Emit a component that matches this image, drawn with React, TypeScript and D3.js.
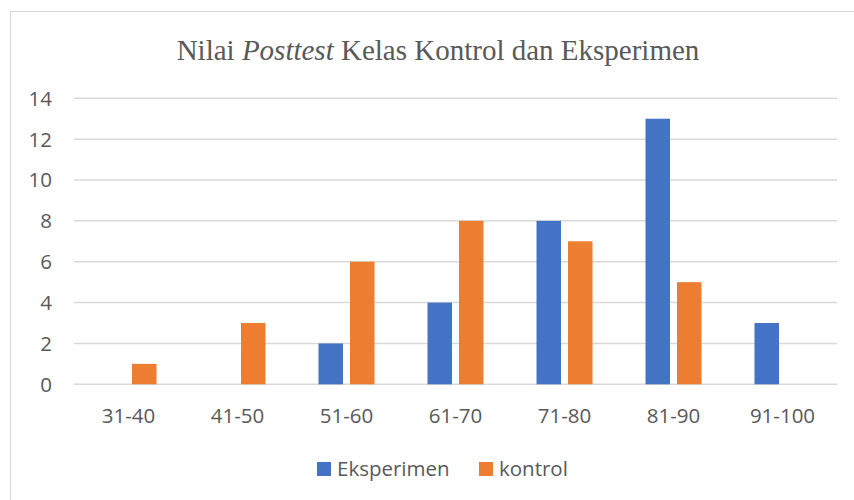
import React, { useEffect, useRef } from "react";
import * as d3 from "d3";

// kelas interval nilai
const kategori = ["31-40", "41-50", "51-60", "61-70", "71-80", "81-90", "91-100"];
const eksperimen = [0, 0, 2, 4, 8, 13, 3];
const kontrol = [1, 3, 6, 8, 7, 5, 0];
const yTicks = [0, 2, 4, 6, 8, 10, 12, 14];
const seri = [
  { nama: "Eksperimen", nilai: eksperimen, warna: "#4472C4" },
  { nama: "kontrol", nilai: kontrol, warna: "#ED7D31" },
];

const W = 854;
const H = 500;

export default function App() {
  const ref = useRef<SVGSVGElement>(null);

  useEffect(() => {
    const svg = d3.select(ref.current);
    svg.selectAll("*").remove();

    const x0 = 74, x1 = 837;
    const yTop = 98.3, yBot = 384.3;
    const fontAxis = "'Open Sans', sans-serif";
    const textCol = "#595959";

    // bingkai
    svg.append("rect")
      .attr("x", 10.5).attr("y", 11.5)
      .attr("width", 900).attr("height", 600)
      .attr("fill", "#fff").attr("stroke", "#D9D9D9");

    const x = d3.scaleBand<string>().domain(kategori).range([x0, x1]);
    const y = d3.scaleLinear().domain([0, 14]).range([yBot, yTop]);

    // judul
    const judul = svg.append("text")
      .attr("x", 438).attr("y", 60)
      .attr("text-anchor", "middle")
      .attr("font-family", "'Liberation Serif', 'Times New Roman', serif")
      .attr("font-size", 29)
      .attr("fill", textCol);
    judul.append("tspan").text("Nilai ");
    judul.append("tspan").attr("font-style", "italic").text("Posttest");
    judul.append("tspan").text(" Kelas Kontrol dan Eksperimen");

    // grid
    svg.append("g")
      .selectAll("line")
      .data(yTicks)
      .join("line")
      .attr("x1", x0).attr("x2", x1)
      .attr("y1", (d) => y(d)).attr("y2", (d) => y(d))
      .attr("stroke", "#D9D9D9").attr("stroke-width", 1.5);

    svg.append("g")
      .selectAll("text")
      .data(yTicks)
      .join("text")
      .attr("x", 52)
      .attr("y", (d) => y(d))
      .attr("dy", "0.36em")
      .attr("text-anchor", "end")
      .attr("font-family", fontAxis)
      .attr("font-size", 20.5)
      .attr("fill", textCol)
      .text((d) => d);

    // batang
    const barW = 24.5, gap = 7;
    const pairW = barW * 2 + gap;
    seri.forEach((s, i) => {
      svg.append("g")
        .selectAll("rect")
        .data(kategori)
        .join("rect")
        .attr("x", (d) => x(d)! + x.bandwidth() / 2 - pairW / 2 + i * (barW + gap))
        .attr("width", barW)
        .attr("y", (_, j) => y(s.nilai[j]))
        .attr("height", (_, j) => yBot - y(s.nilai[j]))
        .attr("fill", s.warna);
    });

    svg.append("g")
      .selectAll("text")
      .data(kategori)
      .join("text")
      .attr("x", (d) => x(d)! + x.bandwidth() / 2)
      .attr("y", 423)
      .attr("text-anchor", "middle")
      .attr("font-family", fontAxis)
      .attr("font-size", 20.5)
      .attr("fill", textCol)
      .text((d) => d);

    // legenda
    const legX = [317, 479];
    seri.forEach((s, i) => {
      svg.append("rect")
        .attr("x", legX[i]).attr("y", 462)
        .attr("width", 14).attr("height", 14)
        .attr("fill", s.warna);
      svg.append("text")
        .attr("x", legX[i] + 20).attr("y", 476)
        .attr("font-family", fontAxis)
        .attr("font-size", 20.5)
        .attr("fill", textCol)
        .text(s.nama);
    });
  }, []);

  return (
    <svg
      ref={ref}
      width={W}
      height={H}
      style={{ position: "absolute", left: 0, top: 0, background: "#fff" }}
    />
  );
}
